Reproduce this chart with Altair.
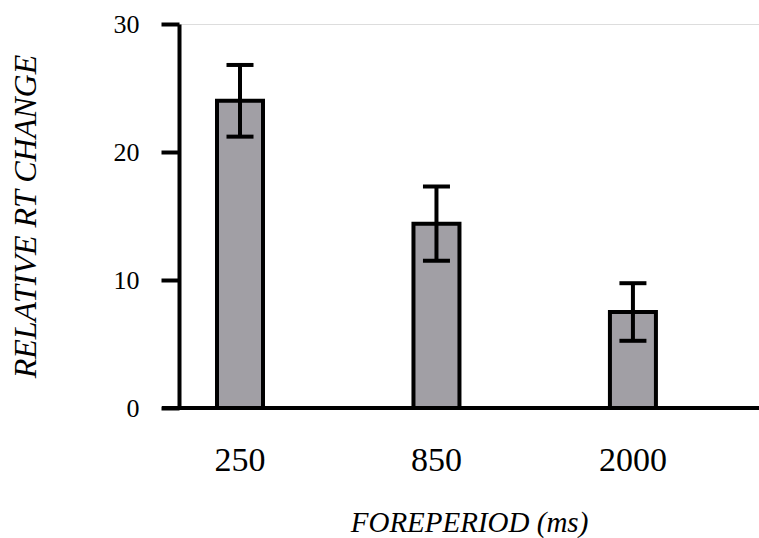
import altair as alt
import pandas as pd

categories = ["250", "850", "2000"]
means = [24.0, 14.4, 7.5]
errors = [2.8, 2.9, 2.25]

df = pd.DataFrame({
    "fp": categories,
    "mean": means,
    "lo": [m - e for m, e in zip(means, errors)],
    "hi": [m + e for m, e in zip(means, errors)],
})

FONT = "Times New Roman, Liberation Serif, serif"

xscale = alt.Scale(domain=categories, paddingInner=0.379, paddingOuter=0.1656, align=0)
yscale = alt.Scale(domain=[0, 30])

x = alt.X("fp:N", sort=categories, scale=xscale,
          axis=alt.Axis(title="FOREPERIOD (ms)", domain=False, ticks=False, labelAngle=0,
                        labelFont=FONT, labelFontSize=34, labelColor="black", labelPadding=35,
                        titleFont=FONT, titleFontSize=29, titleFontStyle="italic",
                        titleFontWeight="normal", titleColor="black",
                        titleY=123, titleBaseline="alphabetic"))
y = alt.Y("mean:Q", scale=yscale,
          axis=alt.Axis(title="RELATIVE RT CHANGE", values=[0, 10, 20, 30], grid=False,
                        domainColor="black", domainWidth=4, tickColor="black", tickWidth=4,
                        tickSize=18, labelFont=FONT, labelFontSize=26, labelColor="black",
                        labelPadding=22,
                        titleFont=FONT, titleFontSize=32, titleFontStyle="italic",
                        titleFontWeight="normal", titleColor="black",
                        titleX=-144, titleY=192, titleAngle=-90, titleAlign="center",
                        titleBaseline="alphabetic"))

base = alt.Chart(df)

bars = base.mark_bar(size=46, fill="#a19fa5", stroke="black", strokeWidth=4).encode(x=x, y=y)

rules = base.mark_rule(color="black", strokeWidth=4).encode(
    x=alt.X("fp:N", sort=categories, scale=xscale),
    y=alt.Y("lo:Q", scale=yscale), y2="hi:Q")

caps_hi = base.mark_tick(color="black", size=27, thickness=4, orient="horizontal", opacity=1).encode(
    x=alt.X("fp:N", sort=categories, scale=xscale),
    y=alt.Y("hi:Q", scale=yscale))
caps_lo = base.mark_tick(color="black", size=27, thickness=4, orient="horizontal", opacity=1).encode(
    x=alt.X("fp:N", sort=categories, scale=xscale),
    y=alt.Y("lo:Q", scale=yscale))

baseline = alt.Chart(pd.DataFrame({"z": [0]})).mark_rule(color="black", strokeWidth=4).encode(
    y=alt.Y("z:Q", scale=yscale), x=alt.value(-17), x2=alt.value(580))

chart = alt.layer(bars, rules, caps_hi, caps_lo, baseline).properties(
    width=580, height=384,
    autosize=alt.AutoSizeParams(type="none"),
    padding={"left": 179, "top": 24, "right": 0, "bottom": 130},
).configure_view(stroke=None).configure(background="white")

chart.save("out.html", embed_options={"renderer": "svg", "actions": False})
